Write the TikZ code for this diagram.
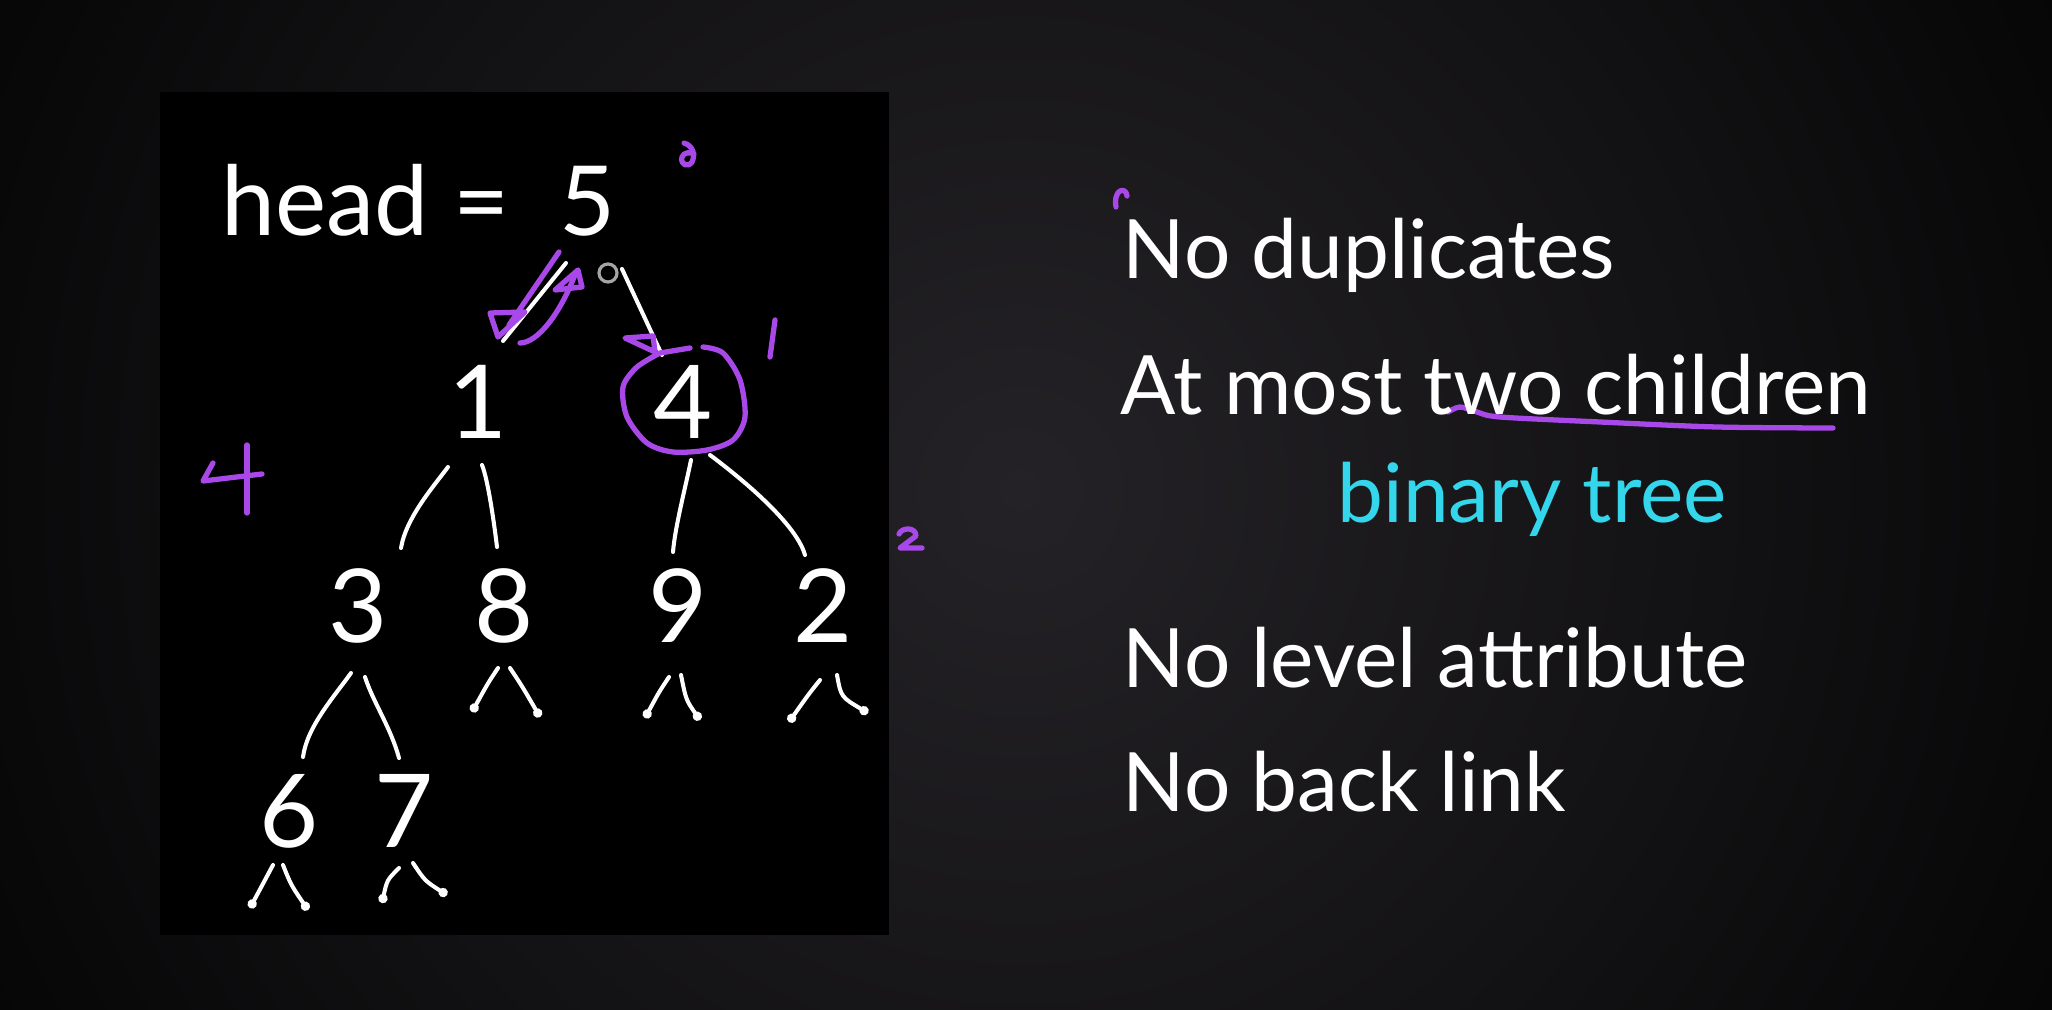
\documentclass[tikz,border=0pt]{standalone}
\usepackage{fontspec}
\setmainfont{Lato}
\usetikzlibrary{arrows.meta}
\definecolor{glow}{RGB}{36,34,38}
\definecolor{ink}{RGB}{168,72,232}
\definecolor{aqua}{RGB}{52,214,236}
\definecolor{cursorgrey}{RGB}{165,165,165}
\begin{document}
\begin{tikzpicture}[x=0.01cm,y=-0.01cm,
  chalk/.style={draw=white, line width=1.15pt, line cap=round},
  nullend/.style={chalk, -{Circle[length=2.6pt]}},
  pen/.style={draw=ink, line width=1.5pt, line cap=round, line join=round},
  digit/.style={text=white, font=\fontsize{29}{29}\selectfont, inner sep=0pt},
  rule/.style={text=white, font=\fontsize{23.3}{25}\selectfont, anchor=base west, inner sep=0pt}]
\useasboundingbox (0,0) rectangle (2052,1010);
% dark backdrop with a soft glow
\fill[black] (0,0) rectangle (2052,1010);
\begin{scope}
  \clip (0,0) rectangle (2052,1010);
  \shade[inner color=glow, outer color=black] (1020,490) circle (14cm);
\end{scope}
% black board holding the tree
\fill[black] (160,92) rectangle (889,935);

% head pointer and tree values
\node[text=white, font=\fontsize{27.5}{28}\selectfont, inner sep=0pt, anchor=base east] (head) at (616,236) {head =\ \ 5};
\node[digit] (n1) at (478,402) {1};
\node[digit] (n4) at (683,402) {4};
\node[digit] (n3) at (358,606) {3};
\node[digit] (n8) at (504,606) {8};
\node[digit] (n9) at (678,606) {9};
\node[digit] (n2) at (823,606) {2};
\node[digit] (n6) at (289,811) {6};
\node[digit] (n7) at (404,811) {7};

% links from head
\draw[chalk] ([shift={(-50,27)}]head.base east) -- ([shift={(25,-61)}]n1.center);
\draw[chalk] ([shift={(6,33)}]head.base east) -- ([shift={(-21,-47)}]n4.center);

% child links
\draw[chalk] ([shift={(-30,65)}]n1.center) .. controls +(-15,20) and +(5,-30) .. ([shift={(43,-58)}]n3.center);
\draw[chalk] ([shift={(4,63)}]n1.center) .. controls +(6,15) and +(-3,-25) .. ([shift={(-7,-59)}]n8.center);
\draw[chalk] ([shift={(8,58)}]n4.center) .. controls +(-5,25) and +(2,-25) .. ([shift={(-5,-54)}]n9.center);
\draw[chalk] ([shift={(27,53)}]n4.center) .. controls +(20,15) and +(-10,-35) .. ([shift={(-18,-51)}]n2.center);
\draw[chalk] ([shift={(-7,67)}]n3.center) .. controls +(-18,25) and +(4,-30) .. ([shift={(14,-54)}]n6.center);
\draw[chalk] ([shift={(7,71)}]n3.center) .. controls +(8,25) and +(-8,-30) .. ([shift={(-5,-53)}]n7.center);

% empty child links
\draw[nullend] ([shift={(-6,62)}]n8.center) .. controls +(-10,15) .. ([shift={(-32,106)}]n8.center);
\draw[nullend] ([shift={(6,62)}]n8.center) .. controls +(12,18) .. ([shift={(36,111)}]n8.center);
\draw[nullend] ([shift={(-9,71)}]n9.center) .. controls +(-10,15) .. ([shift={(-33,112)}]n9.center);
\draw[nullend] ([shift={(3,69)}]n9.center) .. controls +(5,25) .. ([shift={(22,114)}]n9.center);
\draw[nullend] ([shift={(-3,74)}]n2.center) .. controls +(-12,15) .. ([shift={(-34,116)}]n2.center);
\draw[nullend] ([shift={(14,69)}]n2.center) .. controls +(4,22) .. ([shift={(45,107)}]n2.center);
\draw[nullend] ([shift={(-16,54)}]n6.center) .. controls +(-8,15) .. ([shift={(-39,97)}]n6.center);
\draw[nullend] ([shift={(-6,54)}]n6.center) .. controls +(8,20) .. ([shift={(19,99)}]n6.center);
\draw[nullend] ([shift={(-5,57)}]n7.center) .. controls +(-12,12) .. ([shift={(-22,92)}]n7.center);
\draw[nullend] ([shift={(9,52)}]n7.center) .. controls +(12,18) .. ([shift={(43,84)}]n7.center);

% pen marks
\draw[pen] (559,252) -- (509,325);
\draw[pen] (490,313) -- (525,312) -- (498,337) -- cycle;
\draw[pen] (520,343) .. controls (537,343) and (560,315) .. (576,272);
\draw[pen] (555,290) -- (578,270) -- (582,287) -- cycle;
\draw[pen] (625,338) -- (653,336) -- (655,352) -- cycle;
\draw[pen] plot[smooth] coordinates {(703,347) (723,353) (740,380) (745,417) (733,440) (707,450) (673,452) (647,443) (627,417) (623,387) (637,367) (660,353)} -- (690,348);
\draw[pen] (775,320) -- (770,357);
\draw[pen] (684,143) .. controls (694,146) and (695,156) .. (692,162) .. controls (688,168) and (680,165) .. (682,157) .. controls (684,152) and (690,152) .. (694,154);
\draw[pen] (213,463) -- (203,481) -- (262,474);
\draw[pen] (247,445) -- (247,513);
\draw[pen] (899,534) .. controls (902,527) and (916,527) .. (916,536) -- (900,548) -- (922,548);
\draw[pen] (1116,207) .. controls (1113,189) and (1126,186) .. (1127,196);
\draw[pen] plot[smooth] coordinates {(1448,412) (1460,407) (1477,412) (1500,417) (1600,422) (1717,427) (1833,428)};

% cursor ring
\draw[cursorgrey, line width=0.9pt] (608,273) circle (0.09cm);

% properties list
\node[rule] (dup) at (1122,279) {No duplicates};
\node[rule] (two) at (1120,415) {At most two children};
\node[rule, text=aqua] (bin) at (1337,523) {binary tree};
\node[rule] (lvl) at (1122,687) {No level attribute};
\node[rule] (back) at (1122,811) {No back link};
\end{tikzpicture}
\end{document}
